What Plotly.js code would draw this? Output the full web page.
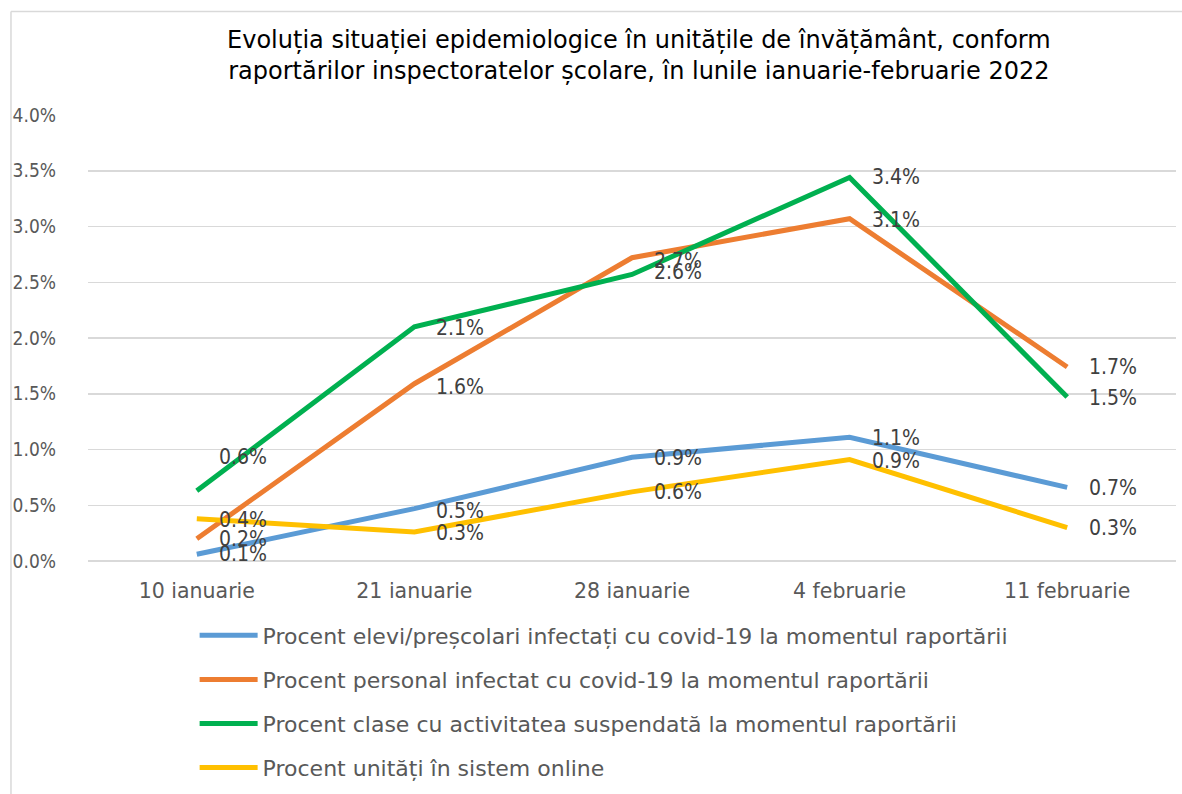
<!DOCTYPE html>
<html>
<head>
<meta charset="utf-8">
<script src="https://cdn.plot.ly/plotly-3.0.1.min.js"></script>
<style>
html,body{margin:0;padding:0;background:#fff;}
#chart{width:1182px;height:794px;}
</style>
</head>
<body>
<div id="chart"></div>
<script>
const categories = ["10 ianuarie", "21 ianuarie", "28 ianuarie", "4 februarie", "11 februarie"];
const seriesNames = [
  "Procent elevi/preșcolari infectați cu covid-19 la momentul raportării",
  "Procent personal infectat cu covid-19 la momentul raportării",
  "Procent clase cu activitatea suspendată la momentul raportării",
  "Procent unități în sistem online"
];
const elevi    = [0.0006, 0.0047, 0.0093, 0.0111, 0.0066];
const personal = [0.0020, 0.0159, 0.0272, 0.0307, 0.0174];
const clase    = [0.0063, 0.0210, 0.0257, 0.0344, 0.0147];
const unitati  = [0.0038, 0.0026, 0.0062, 0.0091, 0.0030];
const colors = ["#5b9bd5", "#ed7d31", "#00b050", "#ffc000"];
// label vertical nudges (px) to mimic the reference placement
const labelShift = [
  [0, -2, -1, -1, -1],
  [0, -3, -3, -1, 0],
  [34, -1, 2, 0, -1],
  [-1, -1, 0, -1, 0]
];

const seriesValues = [elevi, personal, clase, unitati];
const FONT_C = "DejaVu Sans Condensed, DejaVu Sans, sans-serif";
const FONT = "DejaVu Sans, sans-serif";

const traces = seriesValues.map((vals, i) => ({
  type: "scatter",
  mode: "lines",
  x: categories,
  y: vals,
  name: seriesNames[i],
  legendgroup: "g" + i,
  line: {color: colors[i], width: 5},
  hoverinfo: "skip"
}));

const annotations = [];
seriesValues.forEach((vals, i) => {
  vals.forEach((v, j) => {
    annotations.push({
      x: categories[j], y: v, xref: "x", yref: "y",
      text: (v * 100).toFixed(1) + "%",
      showarrow: false, xanchor: "left", yanchor: "middle",
      xshift: 20, yshift: labelShift[i][j],
      font: {family: FONT_C, size: 21, color: "#404040"}
    });
  });
});

const shapes = [
  {type: "line", xref: "paper", yref: "paper", x0: -0.0708, x1: -0.0708, y0: 1.232, y1: -0.6, line: {color: "#d9d9d9", width: 1.5}},
  {type: "line", xref: "paper", yref: "paper", x0: -0.0708, x1: 1.1, y0: 1.232, y1: 1.232, line: {color: "#d9d9d9", width: 1.5}}
];

const layout = {
  width: 1182, height: 794,
  margin: {l: 88, r: 6, t: 115, b: 231, pad: 0},
  paper_bgcolor: "#ffffff", plot_bgcolor: "#ffffff",
  font: {family: FONT, color: "#595959"},
  title: {
    text: "Evoluția situației epidemiologice în unitățile de învățământ, conform<br>raportărilor inspectoratelor școlare, în lunile ianuarie-februarie 2022",
    font: {family: FONT, size: 24, color: "#000000"},
    x: 0.5405, xref: "container", xanchor: "center",
    y: 0.94, yref: "container", yanchor: "top"
  },
  xaxis: {
    type: "category", range: [-0.5, 4.5],
    showgrid: false, zeroline: false, showline: false, ticks: "",
    tickfont: {family: FONT, size: 20.5, color: "#595959"},
    ticklabelstandoff: 15, fixedrange: true
  },
  yaxis: {
    range: [0, 0.04], dtick: 0.005, tickformat: ".1%",
    showgrid: true, gridcolor: "#d9d9d9", gridwidth: 1.5,
    zeroline: true, zerolinecolor: "#d9d9d9", zerolinewidth: 1.5,
    showline: false, ticks: "",
    tickfont: {family: FONT_C, size: 19, color: "#595959"},
    ticklabelstandoff: 31, fixedrange: true
  },
  showlegend: true,
  legend: {
    orientation: "v",
    x: 0.098, xanchor: "left",
    y: -0.12, yanchor: "top",
    font: {family: FONT, size: 22, color: "#595959"},
    tracegroupgap: 12.5,
    itemwidth: 58,
    borderwidth: 0,
    bgcolor: "rgba(0,0,0,0)"
  },
  annotations: annotations,
  shapes: shapes
};

Plotly.newPlot("chart", traces, layout, {displayModeBar: false, staticPlot: true});
</script>
</body>
</html>
